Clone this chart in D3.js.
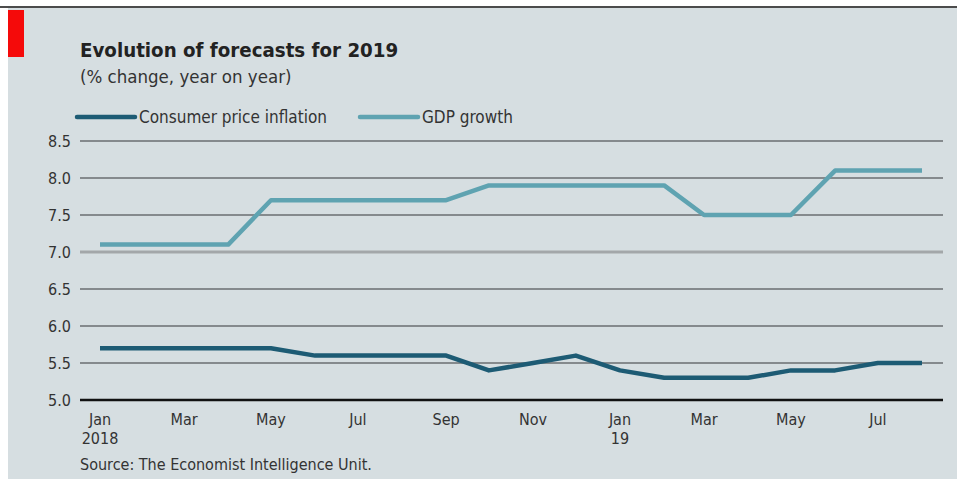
<!DOCTYPE html>
<html>
<head>
<meta charset="utf-8">
<script src="https://cdn.jsdelivr.net/npm/d3@7"></script>
<style>
  html, body { margin: 0; padding: 0; background: #fff; }
  svg { display: block; }
  text { font-family: "DejaVu Sans Condensed", "DejaVu Sans", sans-serif; fill: #222; }
</style>
</head>
<body>
<div id="chart"></div>
<script>
// months Jan 2018 .. Aug 2019
var months = ["2018-01","2018-02","2018-03","2018-04","2018-05","2018-06","2018-07","2018-08","2018-09","2018-10","2018-11","2018-12",
              "2019-01","2019-02","2019-03","2019-04","2019-05","2019-06","2019-07","2019-08"];
var cpi = [5.7,5.7,5.7,5.7,5.7,5.6,5.6,5.6,5.6,5.4,5.5,5.6,5.4,5.3,5.3,5.3,5.4,5.4,5.5,5.5];
var gdp = [7.1,7.1,7.1,7.1,7.7,7.7,7.7,7.7,7.7,7.9,7.9,7.9,7.9,7.9,7.5,7.5,7.5,8.1,8.1,8.1];
var yTicks = [5.0,5.5,6.0,6.5,7.0,7.5,8.0,8.5];
var xTicks = ["2018-01","2018-03","2018-05","2018-07","2018-09","2018-11","2019-01","2019-03","2019-05","2019-07"];
var xTickLabels = [["Jan","2018"],["Mar"],["May"],["Jul"],["Sep"],["Nov"],["Jan","19"],["Mar"],["May"],["Jul"]];
var seriesNames = ["Consumer price inflation","GDP growth"];
var seriesColors = ["#1d5b74","#5fa3b1"];

var width = 957, height = 479;
var parse = d3.timeParse("%Y-%m");

var svg = d3.select("#chart").append("svg")
  .attr("width", width)
  .attr("height", height);

// panel background + frame
svg.append("rect").attr("x", 8).attr("y", 8).attr("width", width - 8).attr("height", height - 8).attr("fill", "#d6dee1");
svg.append("line").attr("x1", 0).attr("x2", width).attr("y1", 7).attr("y2", 7).attr("stroke", "#111").attr("stroke-width", 1.5);
svg.append("rect").attr("x", 8).attr("y", 10).attr("width", 16).attr("height", 47).attr("fill", "#f50a0a");

// title
svg.append("text").attr("x", 80).attr("y", 57)
  .style("font-size", "20.3px").style("font-weight", "bold")
  .text("Evolution of forecasts for 2019");
svg.append("text").attr("x", 80).attr("y", 83)
  .style("font-size", "18.5px").style("fill", "#333")
  .text("(% change, year on year)");

// scales
var x = d3.scaleTime()
  .domain([parse(months[0]), parse(months[months.length - 1])])
  .range([100, 922]);
var y = d3.scaleLinear().domain([5, 8.5]).range([400, 141]);

// gridlines
svg.append("g").selectAll("line")
  .data(yTicks).enter().append("line")
  .attr("x1", 80).attr("x2", 943)
  .attr("y1", function(d) { return y(d); })
  .attr("y2", function(d) { return y(d); })
  .attr("stroke", function(d) { return d === 5 ? "#111" : (d === 7 ? "#a3a7a9" : "#6a6e70"); })
  .attr("stroke-width", function(d) { return d === 5 ? 2.5 : (d === 7 ? 3 : 1.3); });

// y axis labels
var yAxis = d3.axisLeft(y).tickValues(yTicks).tickFormat(d3.format(".1f")).tickSize(0).tickPadding(0);
var gy = svg.append("g").attr("transform", "translate(71,0)").call(yAxis);
gy.select(".domain").remove();
gy.selectAll("text").style("font-size", "16px").style("fill", "#333")
  .style("font-family", "\"DejaVu Sans Condensed\", sans-serif");

// x axis labels
var gx = svg.append("g").attr("class", "xlabels");
gx.selectAll("text")
  .data(xTicks).enter().append("text")
  .attr("x", function(d) { return x(parse(d)); })
  .attr("y", 425)
  .attr("text-anchor", "middle")
  .style("font-size", "16px").style("fill", "#333")
  .each(function(d, i) {
    var t = d3.select(this);
    xTickLabels[i].forEach(function(s, k) {
      t.append("tspan").attr("x", x(parse(d))).attr("dy", k === 0 ? 0 : 19).text(s);
    });
  });

// lines
var line = d3.line()
  .x(function(d, i) { return x(parse(months[i])); })
  .y(function(d) { return y(d); });

[gdp, cpi].forEach(function(s, k) {
  svg.append("path")
    .datum(s)
    .attr("fill", "none")
    .attr("stroke", k === 0 ? seriesColors[1] : seriesColors[0])
    .attr("stroke-width", 4.5)
    .attr("stroke-linejoin", "round")
    .attr("d", line);
});

// legend
var legX = [77, 360];
seriesNames.forEach(function(n, i) {
  svg.append("line").attr("x1", legX[i]).attr("x2", legX[i] + 58)
    .attr("y1", 117).attr("y2", 117)
    .attr("stroke", seriesColors[i]).attr("stroke-width", 4.5).attr("stroke-linecap", "round");
  svg.append("text").attr("x", legX[i] + 62).attr("y", 123)
    .style("font-size", "17px").style("fill", "#333")
    .text(n);
});

// source
svg.append("text").attr("x", 80).attr("y", 470)
  .style("font-size", "16px").style("fill", "#333")
  .text("Source: The Economist Intelligence Unit.");
</script>
</body>
</html>
